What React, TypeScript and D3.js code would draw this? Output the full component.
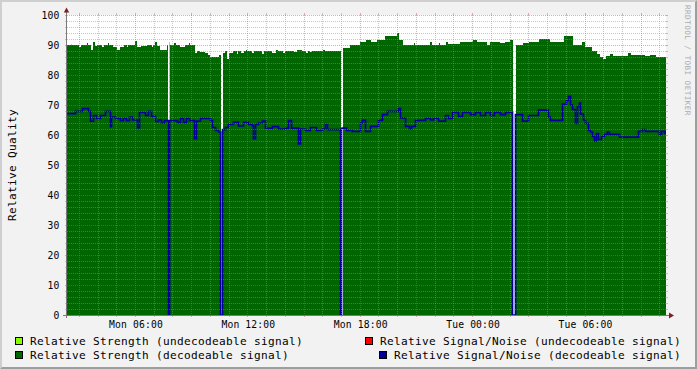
import React from 'react';
import * as d3 from 'd3';

const W = 697;
const H = 369;

// time in minutes since Monday 00:00
const startMinute = 139;
const endMinute = 2061;

const yTickValues = [0, 10, 20, 30, 40, 50, 60, 70, 80, 90, 100];
const xTickMinutes = [360, 720, 1080, 1440, 1800];
const xTickLabels = ['Mon 06:00', 'Mon 12:00', 'Mon 18:00', 'Tue 00:00', 'Tue 06:00'];

const strengthUndecodeable: [number, number][] = [
  [139, 0], [151, 90.4], [155, 0], [466, 91], [469, 0], [2065, 0],
];

const strengthDecodeable: [number, number][] = [
  [139, 90], [177, 89.4], [184, 90], [203, 90.8], [207, 90], [215, 88.2], [221, 90.9], [229, 89.6],
  [235, 90], [252, 89.3], [256, 90], [270, 90.7], [274, 90], [287, 89.2],
  [298, 88.3], [309, 89.5], [322, 90], [330, 89.3], [335, 90], [357, 91.4], [362, 89.2], [375, 89.8],
  [395, 90], [410, 89.4], [414, 90], [422, 91], [427, 89.6],
  [437, 88.3], [458, 90], [463, 0], [469, 90], [483, 90.6], [487, 90], [501, 89.2], [517, 90],
  [530, 90.6], [534, 90], [549, 87.2], [555, 88.1],
  [565, 87.8], [581, 87.2], [591, 86.7], [597, 86.1], [626, 86.7], [632, 0], [639, 87.2], [645, 88],
  [652, 85.3], [658, 87.5], [670, 88], [683, 87], [687, 88], [696, 87.3], [705, 88], [712, 88.4], [716, 88],
  [732, 87.2], [738, 88], [764, 87], [770, 88],
  [796, 87.5], [809, 88.2], [815, 88], [831, 87.3], [836, 88], [866, 87.6], [876, 88.3], [892, 88],
  [905, 87.4], [910, 88], [917, 87.6], [925, 88], [960, 88.3], [966, 88], [1017, 0], [1023, 89], [1046, 90],
  [1078, 91], [1097, 91.5], [1113, 91],
  [1132, 91.5], [1158, 93], [1197, 94], [1204, 91.5], [1215, 90], [1250, 90.6], [1254, 90], [1302, 91],
  [1308, 90], [1330, 90.5], [1334, 90], [1353, 91],
  [1360, 90.3], [1398, 91], [1440, 91.7], [1452, 91], [1484, 90], [1494, 91], [1526, 90.5], [1542, 91],
  [1558, 91.5], [1568, 0], [1577, 90], [1600, 90.5], [1619, 91], [1651, 92], [1686, 91], [1731, 93], [1760, 90],
  [1789, 91], [1798, 89.5], [1821, 88], [1837, 87], [1846, 86], [1856, 85.3], [1866, 86.5], [1878, 87],
  [1888, 86.5], [1936, 87.3], [1945, 86.7], [1990, 86.3], [2007, 86.7], [2026, 86], [2065, 86],
];

const snUndecodeable: [number, number][] = [];

const snDecodeable: [number, number][] = [
  [139, 67.1], [165, 67.9], [187, 68.8], [206, 67.9], [213, 64.6], [222, 66.5], [232, 65.5], [245, 66.5],
  [261, 67.9], [277, 62.8], [280, 66], [293, 65.5], [309, 64.8], [318, 65.5], [328, 64.8], [338, 66],
  [347, 65], [363, 62.4], [370, 67.5], [389, 66.5], [399, 67.9], [408, 66.2], [421, 64.5], [430, 65],
  [440, 64], [450, 64.8], [463, 0], [467, 64.8], [491, 64.2], [501, 65.5], [511, 64.2], [520, 65.5],
  [530, 64.8], [546, 58.8], [551, 64.6], [565, 65.5], [597, 64.8], [603, 62.5], [613, 61.5], [623, 61],
  [629, 0], [636, 61.8], [645, 62.5], [655, 63.5], [671, 64.2], [687, 63], [703, 64.2], [719, 63.5],
  [732, 63], [735, 58.8], [740, 63.5], [751, 64], [764, 64.6], [773, 62.3], [796, 62.8], [815, 62],
  [837, 62.3], [847, 64.8], [857, 62.3], [879, 57], [884, 62], [901, 61.5], [917, 62.5], [937, 61.5],
  [956, 62], [966, 63.5], [972, 61.8], [1014, 0], [1017, 62.3], [1033, 61.5], [1052, 61.2], [1078, 64],
  [1084, 64.9], [1094, 61.2], [1110, 62.9], [1135, 64.9], [1148, 66.8], [1164, 67.9], [1199, 68.8], [1206, 65.7],
  [1222, 62.9], [1235, 62], [1241, 62.9], [1254, 64.9], [1286, 65.5], [1302, 65], [1311, 65.5], [1327, 64.6],
  [1350, 66.5], [1360, 65.5], [1372, 67.5], [1392, 66.2], [1404, 67.5], [1430, 66.8], [1446, 67.5], [1462, 66.5],
  [1478, 67.5], [1494, 66.5], [1507, 67.5], [1526, 66.8], [1542, 67.5], [1565, 0], [1574, 66.8], [1597, 64.6],
  [1616, 66.5], [1648, 68.3], [1680, 66], [1686, 64.9], [1725, 70.3], [1738, 71.5], [1744, 72.9], [1749, 70],
  [1757, 68.5], [1766, 63.9], [1773, 69.5], [1779, 70.6], [1782, 67], [1792, 65], [1798, 63.9], [1808, 61.5],
  [1814, 61], [1821, 59.5], [1827, 58], [1832, 60.5], [1840, 58.5], [1850, 59.5], [1859, 60.2], [1869, 61],
  [1875, 60.2], [1907, 59.3], [1968, 61.2], [1981, 61.8], [1991, 61.2], [2035, 60.2], [2042, 61.2], [2051, 60.5],
  [2055, 61.2], [2065, 61.2],
];

const legendItems = [
  { label: 'Relative Strength (undecodeable signal)', color: '#88FF00' },
  { label: 'Relative Strength  (decodeable signal)', color: '#006600' },
  { label: 'Relative Signal/Noise (undecodeable signal)', color: '#FF0000' },
  { label: 'Relative Signal/Noise (decodeable signal)', color: '#000099' },
];

const BG = '#F2F2F2';
const SHADEA = '#CFCFCF';
const SHADEB = '#9E9E9E';
const GRID = 'rgba(143,143,143,0.5)';
const MGRID = 'rgba(222,79,79,0.5)';
const ARROW = '#801F1F';
const MONO = '"DejaVu Sans Mono", monospace';

export default function App() {
  const left = 67, right = 666, top = 15, bottom = 315;
  const x = d3.scaleLinear().domain([startMinute, endMinute]).range([left, left + 600]);
  const y = d3.scaleLinear().domain([0, 100]).range([bottom, top]);

  const area = d3.area<[number, number]>()
    .x(d => Math.round(x(d[0])))
    .y0(y(0))
    .y1(d => Math.round(y(d[1])))
    .curve(d3.curveStepAfter);
  const line = d3.line<[number, number]>()
    .x(d => Math.round(x(d[0])) + 0.5)
    .y(d => y(d[1]))
    .curve(d3.curveStepAfter);

  const minorY = d3.range(0, 101, 2).filter(v => v % 10 !== 0);
  const hourTicks = d3.range(Math.ceil(startMinute / 60) * 60, endMinute + 1, 60);
  const minorX = hourTicks.filter(m => m % 180 !== 0);
  const majorX = hourTicks.filter(m => m % 180 === 0);

  const px = (m: number) => Math.round(x(m)) - 0.5;
  const py = (v: number) => Math.round(y(v)) + 0.5;

  return (
    <svg width={W} height={H} style={{ position: 'absolute', left: 0, top: 0 }}
      xmlns="http://www.w3.org/2000/svg">
      <defs>
        <clipPath id="plotclip">
          <rect x={left} y={top} width={right - left} height={bottom - top} />
        </clipPath>
      </defs>
      <rect x={0} y={0} width={W} height={H} fill={BG} />
      <polygon points={`0,0 ${W},0 ${W - 2},2 2,2 2,${H - 2} 0,${H}`} fill={SHADEA} />
      <polygon points={`${W},0 ${W},${H} 0,${H} 2,${H - 2} ${W - 2},${H - 2} ${W - 2},2`} fill={SHADEB} />
      <rect x={left} y={top} width={right - left} height={bottom - top} fill="#FFFFFF" />

      <g clipPath="url(#plotclip)">
        <path d={area(strengthUndecodeable) || ''} fill={legendItems[0].color} shapeRendering="crispEdges" />
        <path d={area(strengthDecodeable) || ''} fill={legendItems[1].color} shapeRendering="crispEdges" />
        {snUndecodeable.length > 0 && (
          <path d={line(snUndecodeable) || ''} fill="none" stroke={legendItems[2].color} strokeWidth={1.6} />
        )}
        <path d={line(snDecodeable) || ''} fill="none" stroke={legendItems[3].color} strokeWidth={1.7} />
      </g>

      {/* minor grid */}
      <g stroke={GRID} strokeWidth={1}>
        {minorY.map(v => (
          <g key={'my' + v}>
            <line x1={left} x2={right} y1={py(v)} y2={py(v)} strokeDasharray="1 1" />
            <line x1={left - 2} x2={left} y1={py(v)} y2={py(v)} />
            <line x1={right} x2={right + 2} y1={py(v)} y2={py(v)} />
          </g>
        ))}
        {minorX.map(m => (
          <g key={'mx' + m}>
            <line x1={px(m)} x2={px(m)} y1={top} y2={bottom} strokeDasharray="1 1" />
            <line x1={px(m)} x2={px(m)} y1={top - 2} y2={top} />
            <line x1={px(m)} x2={px(m)} y1={bottom} y2={bottom + 2} />
          </g>
        ))}
      </g>
      {/* major grid */}
      <g stroke={MGRID} strokeWidth={1}>
        {yTickValues.map(v => (
          <g key={'My' + v}>
            <line x1={left} x2={right} y1={py(v)} y2={py(v)} strokeDasharray="1 1" />
            <line x1={left - 2} x2={left} y1={py(v)} y2={py(v)} />
            <line x1={right} x2={right + 2} y1={py(v)} y2={py(v)} />
          </g>
        ))}
        {majorX.map(m => (
          <g key={'Mx' + m}>
            <line x1={px(m)} x2={px(m)} y1={top} y2={bottom} strokeDasharray="1 1" />
            <line x1={px(m)} x2={px(m)} y1={top - 2} y2={top} />
            <line x1={px(m)} x2={px(m)} y1={bottom} y2={bottom + 2} />
          </g>
        ))}
      </g>

      {/* axes */}
      <line x1={left - 0.5} x2={left - 0.5} y1={bottom + 3} y2={10} stroke="#7a7a7a" strokeWidth={1} />
      <line x1={left - 4} x2={right + 4} y1={bottom + 0.5} y2={bottom + 0.5} stroke="#7a7a7a" strokeWidth={1} />
      <polygon points={`${left - 3.2},12.5 ${left + 2.2},12.5 ${left - 0.5},7.5`} fill={ARROW} />
      <polygon points={`${right + 3},${bottom - 2.5} ${right + 3},${bottom + 3.5} ${right + 8},${bottom + 0.5}`} fill={ARROW} />

      {/* tick labels */}
      <g fontFamily={MONO} fontSize={9.7} fill="#000" letterSpacing={0.16}>
        {yTickValues.map(v => (
          <text key={'yl' + v} x={59.5} y={y(v) + 3.6} textAnchor="end">{String(v)}</text>
        ))}
        {xTickMinutes.map((m, i) => (
          <text key={'xl' + m} x={x(m)} y={328} textAnchor="middle">{xTickLabels[i]}</text>
        ))}
      </g>

      <text transform={`translate(15.5, ${(top + bottom) / 2}) rotate(-90)`} fontFamily={MONO}
        fontSize={11.1} letterSpacing={0.32} textAnchor="middle" fill="#000">Relative Quality</text>

      <text transform={`translate(684.5, 5) rotate(90)`} fontFamily={MONO} fontSize={7.64}
        letterSpacing={0.45} fill="#ABABAB">RRDTOOL / TOBI OETIKER</text>

      {/* legend */}
      <g fontFamily={MONO} fontSize={11.1} letterSpacing={0.32} fill="#000" style={{ whiteSpace: 'pre' }}>
        {[
          { sx: 15.5, sy: 337.5, tx: 30, ty: 345 },
          { sx: 15.5, sy: 351.5, tx: 30, ty: 359 },
          { sx: 365.5, sy: 337.5, tx: 380, ty: 345 },
          { sx: 379.5, sy: 351.5, tx: 394, ty: 359 },
        ].map((p, i) => (
          <g key={'lg' + i}>
            <rect x={p.sx} y={p.sy} width={7} height={7} fill={legendItems[i].color} stroke="#000" strokeWidth={1} />
            <text x={p.tx} y={p.ty}>{legendItems[i].label}</text>
          </g>
        ))}
      </g>
    </svg>
  );
}
